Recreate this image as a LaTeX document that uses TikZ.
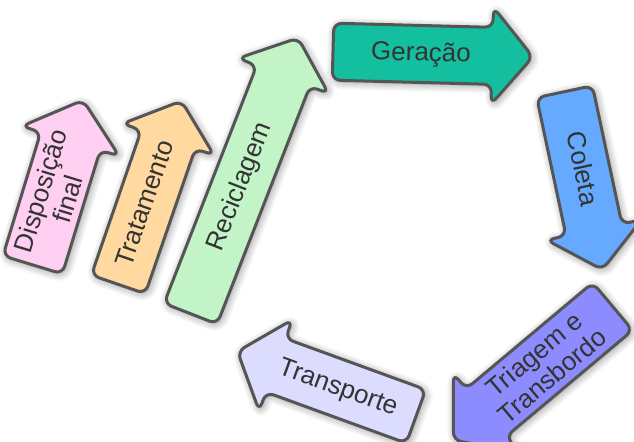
\documentclass[tikz,border=0pt]{standalone}
\usepackage{fontspec}
\setmainfont{Liberation Sans}
\usetikzlibrary{shapes.arrows, shadows.blur}

\definecolor{stageline}{HTML}{555555}
\definecolor{stagetext}{HTML}{333333}
\definecolor{geracao}{HTML}{14BFA0}
\definecolor{coleta}{HTML}{66AAFF}
\definecolor{triagem}{HTML}{8C8CFF}
\definecolor{transporte}{HTML}{DCDCFF}
\definecolor{reciclagem}{HTML}{C2F4C8}
\definecolor{tratamento}{HTML}{FFD9A0}
\definecolor{disposicao}{HTML}{FFCFF2}

\tikzset{
    stagearrow/.style={
        single arrow, draw=stageline, line width=1.5pt,
        rounded corners=4pt,
        single arrow head extend=10pt, single arrow tip angle=100,
        inner xsep=4pt, inner ysep=7pt,
        text=stagetext, font=\fontsize{13}{14}\selectfont, align=center,
        blur shadow={shadow xshift=0.8pt, shadow yshift=-0.8pt,
            shadow blur radius=4pt, shadow blur steps=8, shadow opacity=45}
    },
    oneline/.style={text height=10pt, text depth=3pt},
    twoline/.style={inner ysep=3pt},
    backward/.style={shape border rotate=180}
}

\begin{document}
\begin{tikzpicture}[x=0.5pt, y=0.5pt]
\useasboundingbox (0,0) rectangle (634,442);

% Upper cycle
\node[stagearrow, oneline, fill=geracao, rotate=-1.5, minimum height=100pt] (geracao) at (421,388) {Geração};
\node[stagearrow, oneline, fill=coleta, rotate=-78, minimum height=91pt] (coleta) at (581,273) {Coleta};
\node[stagearrow, twoline, backward, fill=triagem, rotate=40, minimum height=104pt] (triagem) at (543,77) {Triagem e\\Transbordo};
\node[stagearrow, oneline, backward, fill=transporte, rotate=-20, minimum height=95pt] (transporte) at (338,54) {Transporte};

% Destinations
\node[stagearrow, oneline, fill=reciclagem, rotate=68.7, minimum height=148pt] (reciclagem) at (240,255) {Reciclagem};
\node[stagearrow, oneline, fill=tratamento, rotate=71, minimum height=97pt] (tratamento) at (146,238) {Tratamento};
\node[stagearrow, twoline, fill=disposicao, rotate=73, minimum height=78pt] (disposicao) at (54,247) {Disposição\\final};

\end{tikzpicture}
\end{document}
